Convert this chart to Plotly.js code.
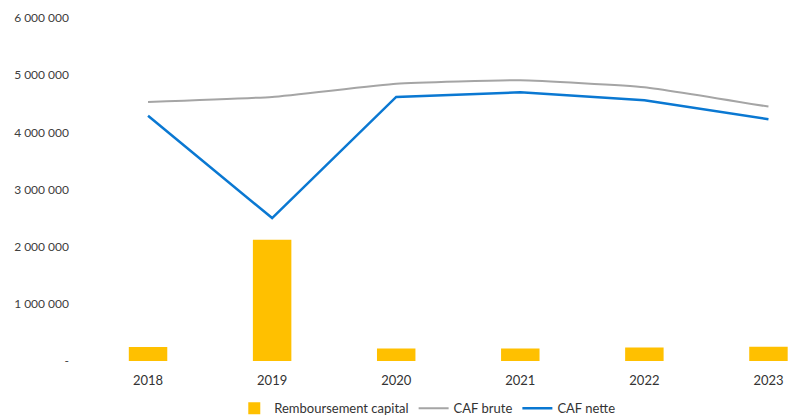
<!DOCTYPE html>
<html>
<head>
<meta charset="utf-8">
<script src="https://cdn.plot.ly/plotly-3.0.1.min.js"></script>
<style>html,body{margin:0;padding:0;background:#fff;}#chart{width:797px;height:417px;}</style>
</head>
<body>
<div id="chart"></div>
<script>
const years = ["2018", "2019", "2020", "2021", "2022", "2023"];
const remboursementCapital = [245000, 2120000, 220000, 220000, 235000, 250000];
const cafBrute = [4530000, 4620000, 4850000, 4910000, 4790000, 4450000];
const cafNette = [4290000, 2500000, 4620000, 4700000, 4560000, 4230000];
const yTickVals = [0, 1000000, 2000000, 3000000, 4000000, 5000000, 6000000];
const yTickText = ["-", "1 000 000", "2 000 000", "3 000 000", "4 000 000", "5 000 000", "6 000 000"];

const traces = [
  {type: "bar", name: "Remboursement capital", x: years, y: remboursementCapital,
   marker: {color: "#FFC000"}, width: 0.31},
  {type: "scatter", mode: "lines", name: "CAF brute", x: years, y: cafBrute,
   line: {color: "#A5A5A5", width: 2, shape: "spline", smoothing: 0.4}},
  {type: "scatter", mode: "lines", name: "CAF nette", x: years, y: cafNette,
   line: {color: "#0A78D2", width: 2.5}}
];

const layout = {
  width: 797, height: 417,
  margin: {l: 86, r: 0, t: 18, b: 55.5, autoexpand: false},
  paper_bgcolor: "#fff", plot_bgcolor: "#fff",
  font: {family: "Lato, 'Liberation Sans', sans-serif", size: 12, color: "#333333"},
  showlegend: true,
  legend: {orientation: "h", x: 0.48, xanchor: "center", y: -0.138, yanchor: "middle",
           font: {size: 13, color: "#333333"}, traceorder: "normal"},
  xaxis: {type: "category", range: [-0.5, 5.23], showgrid: false, zeroline: false,
          showline: false, ticks: "", ticklabelstandoff: 10, tickfont: {size: 13, color: "#333333"}},
  yaxis: {range: [0, 6000000], tickvals: yTickVals, ticktext: yTickText,
          showgrid: false, zeroline: false, showline: false, ticks: "",
          ticklabelstandoff: 16, tickfont: {size: 12, color: "#404040"}}
};

Plotly.newPlot("chart", traces, layout, {displayModeBar: false, staticPlot: true});
</script>
</body>
</html>
